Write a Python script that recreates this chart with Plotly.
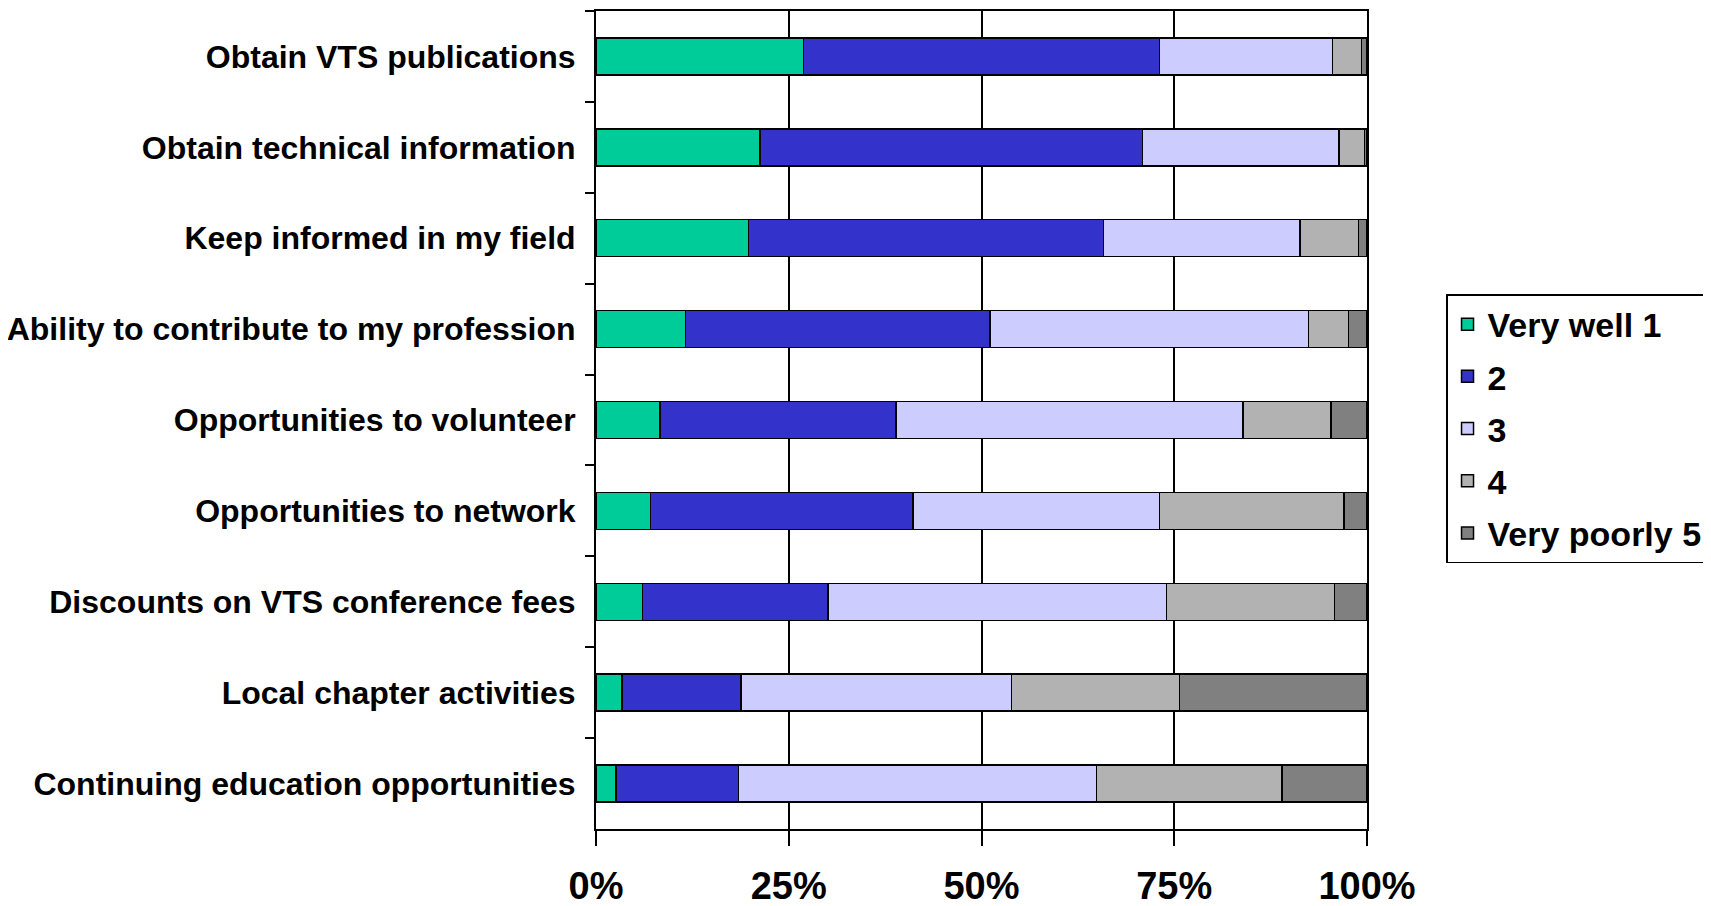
import plotly.graph_objects as go

# categories, top to bottom as shown in the chart
categories = [
    "Obtain VTS publications",
    "Obtain technical information",
    "Keep informed in my field",
    "Ability to contribute to my profession",
    "Opportunities to volunteer",
    "Opportunities to network",
    "Discounts on VTS conference fees",
    "Local chapter activities",
    "Continuing education opportunities",
]

# share of responses (%) per rating
very_well_1 = [26.9, 21.3, 19.8, 11.6, 8.3, 7.1, 6.0, 3.4, 2.6]
rating_2 = [46.2, 49.6, 46.0, 39.5, 30.6, 34.0, 24.1, 15.4, 15.9]
rating_3 = [22.4, 25.5, 25.5, 41.3, 45.0, 32.0, 43.9, 35.1, 46.4]
rating_4 = [3.8, 3.3, 7.6, 5.2, 11.4, 23.9, 21.8, 21.8, 24.1]
very_poorly_5 = [0.7, 0.3, 1.1, 2.4, 4.7, 3.0, 4.2, 24.3, 11.0]

series_names = ["Very well 1", "2", "3", "4", "Very poorly 5"]
series_values = [very_well_1, rating_2, rating_3, rating_4, very_poorly_5]
series_colors = ["#00CC99", "#3333CC", "#CCCCFF", "#B2B2B2", "#808080"]

tick_values = [0, 25, 50, 75, 100]
tick_labels = ["0%", "25%", "50%", "75%", "100%"]

font_family = "Arial, Liberation Sans, sans-serif"

fig = go.Figure()
for name, vals, color in zip(series_names, series_values, series_colors):
    fig.add_trace(go.Bar(
        y=categories,
        x=vals,
        name=name,
        orientation="h",
        legendgroup=name,
        marker=dict(color=color, line=dict(color="black", width=1.5)),
    ))

# page body has an 8px margin, so the figure is a bit smaller than the window
fig.update_layout(
    barmode="stack",
    bargap=0.593,
    width=1703,
    height=898,
    margin=dict(l=588, r=344, t=3, b=77),
    plot_bgcolor="white",
    paper_bgcolor="white",
    font=dict(family=font_family, color="black", weight="bold"),
    legend=dict(
        x=1.1025, xanchor="left",
        y=0.654, yanchor="top",
        font=dict(size=34, family=font_family, weight="bold"),
        bordercolor="black",
        borderwidth=1.5,
        tracegroupgap=5,
        traceorder="grouped",
    ),
    xaxis=dict(
        range=[0, 100],
        tickvals=tick_values,
        ticktext=tick_labels,
        ticks="outside",
        ticklen=15,
        tickwidth=1.5,
        tickcolor="black",
        ticklabelstandoff=8,
        showgrid=True,
        gridcolor="black",
        gridwidth=1.5,
        showline=True,
        linecolor="black",
        linewidth=1.5,
        mirror=True,
        zeroline=False,
        automargin=False,
        tickfont=dict(size=38, family=font_family, weight="bold"),
    ),
    yaxis=dict(
        autorange="reversed",
        tickson="boundaries",
        ticks="outside",
        ticklen=9,
        tickwidth=1.5,
        tickcolor="black",
        ticklabelstandoff=12,
        showgrid=False,
        showline=True,
        linecolor="black",
        linewidth=2,
        mirror=True,
        automargin=False,
        tickfont=dict(size=32, family=font_family, weight="bold"),
    ),
)

fig.write_html("out.html")
